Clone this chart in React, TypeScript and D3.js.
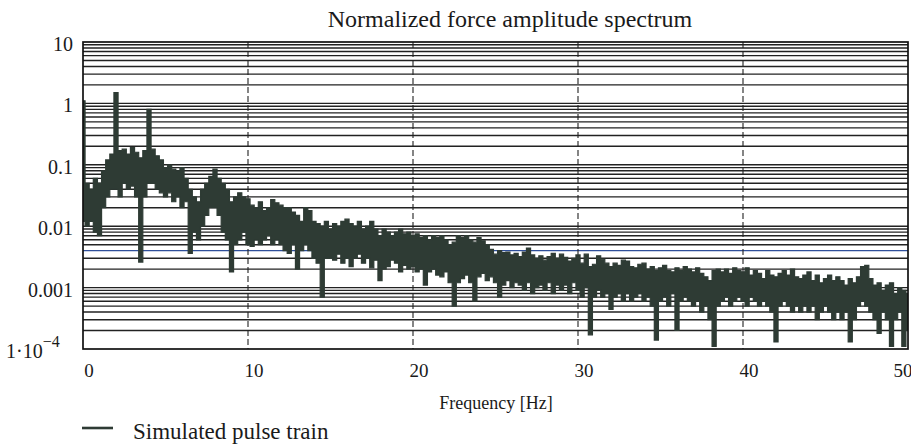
import React from "react";
import * as d3 from "d3";

const TITLE = "Normalized force amplitude spectrum";
const X_LABEL = "Frequency [Hz]";
const LEGEND_LABEL = "Simulated pulse train";
const X_TICKS = [0, 10, 20, 30, 40, 50];
const Y_TICK_VALUES = [10, 1, 0.1, 0.01, 0.001];
const Y_TICK_LABELS = ["10", "1", "0.1", "0.01", "0.001"];
const Y_MIN_LABEL_BASE = "1·10";
const Y_MIN_LABEL_EXP = "−4";
const X_DOMAIN = [0, 50];
const Y_DOMAIN = [1e-4, 10];
const FREQ_STEP = 0.25;

// upper envelope of the spectrum per 0.25 Hz bin (one row per Hz)
const AMP_HIGH = [
  1.1, 0.05, 0.04, 0.06,
  0.05, 0.08, 0.12, 0.15,
  1.5, 0.17, 0.18, 0.15,
  0.19, 0.16, 0.13, 0.17,
  0.8, 0.18, 0.14, 0.12,
  0.09, 0.1, 0.085, 0.08,
  0.09, 0.06, 0.04, 0.03,
  0.025, 0.04, 0.05, 0.065,
  0.085, 0.06, 0.05, 0.04,
  0.025, 0.03, 0.035, 0.03,
  0.028, 0.022, 0.02, 0.025,
  0.018, 0.02, 0.027, 0.024,
  0.022, 0.02, 0.02, 0.017,
  0.015, 0.012, 0.02, 0.018,
  0.012, 0.011, 0.01, 0.012,
  0.009, 0.011, 0.01, 0.012,
  0.013, 0.011, 0.01, 0.012,
  0.009, 0.01, 0.012, 0.009,
  0.007, 0.009, 0.008, 0.007,
  0.008, 0.009, 0.0075, 0.008,
  0.007, 0.0075, 0.0065, 0.007,
  0.006, 0.007, 0.0065, 0.007,
  0.006, 0.005, 0.0055, 0.007,
  0.0065, 0.007, 0.006, 0.0055,
  0.0065, 0.0058, 0.005, 0.0042,
  0.0035, 0.004, 0.0037, 0.0038,
  0.0034, 0.0036, 0.0032, 0.0038,
  0.0044, 0.0034, 0.003, 0.0033,
  0.0028, 0.0032, 0.0036, 0.003,
  0.0035, 0.0031, 0.0027, 0.003,
  0.0034, 0.0025, 0.0035, 0.0022,
  0.0024, 0.0033, 0.0029, 0.0025,
  0.0022, 0.0025, 0.0023, 0.0028,
  0.0027, 0.0022, 0.0021, 0.0024,
  0.0025, 0.002, 0.0022, 0.0019,
  0.0021, 0.0023, 0.0019, 0.0018,
  0.0021, 0.0019, 0.0022, 0.002,
  0.0018, 0.0021, 0.0017, 0.0015,
  0.0013, 0.0019, 0.002, 0.0018,
  0.002, 0.0017, 0.0021, 0.0019,
  0.0018, 0.0021, 0.0016, 0.0019,
  0.0017, 0.0014, 0.0019, 0.0016,
  0.0015, 0.0017, 0.0019, 0.0016,
  0.002, 0.0015, 0.0014, 0.0016,
  0.0018, 0.0013, 0.0016, 0.0012,
  0.0014, 0.0016, 0.0013, 0.0015,
  0.0013, 0.0011, 0.0014, 0.0012,
  0.0015, 0.0022, 0.0023, 0.0014,
  0.0011, 0.0012, 0.0009, 0.0011,
  0.0012, 0.0008, 0.001, 0.0009,
  0.0008,
];

// lower envelope of the spectrum per 0.25 Hz bin (one row per Hz)
const AMP_LOW = [
  0.012, 0.01, 0.012, 0.008,
  0.007, 0.02, 0.03, 0.04,
  0.04, 0.03, 0.05, 0.04,
  0.045, 0.03, 0.0026, 0.03,
  0.05, 0.05, 0.04, 0.035,
  0.03, 0.035, 0.025, 0.03,
  0.02, 0.025, 0.0036, 0.008,
  0.006, 0.01, 0.015, 0.02,
  0.02, 0.015, 0.008, 0.006,
  0.0018, 0.005, 0.006, 0.008,
  0.005, 0.0047, 0.006, 0.005,
  0.006, 0.007, 0.005, 0.006,
  0.005, 0.004, 0.0036, 0.005,
  0.002, 0.004, 0.005, 0.004,
  0.003, 0.0025, 0.0007, 0.003,
  0.003, 0.0028, 0.0035, 0.0025,
  0.003, 0.0022, 0.003, 0.0035,
  0.0025, 0.003, 0.0021, 0.0028,
  0.0013, 0.002, 0.0022, 0.0028,
  0.0025, 0.0018, 0.0023, 0.002,
  0.0022, 0.0018, 0.002, 0.0011,
  0.0018, 0.002, 0.0016, 0.0015,
  0.0018, 0.0012, 0.0005, 0.0012,
  0.0014, 0.0016, 0.0012, 0.0006,
  0.0015, 0.0017, 0.0013, 0.0015,
  0.0012, 0.0007, 0.0011, 0.0013,
  0.001, 0.0012, 0.0011, 0.0009,
  0.0012, 0.0008, 0.001, 0.0011,
  0.0009, 0.0012, 0.0008, 0.0011,
  0.0009, 0.0011, 0.0008, 0.0012,
  0.0009, 0.0007, 0.001, 0.00017,
  0.0007, 0.0009, 0.0007, 0.0008,
  0.00044, 0.0007, 0.0008, 0.0006,
  0.0008, 0.0006, 0.0007, 0.0008,
  0.0006, 0.0007, 0.0005, 0.00014,
  0.0006, 0.0007, 0.0005, 0.0008,
  0.0002, 0.0006, 0.0007, 0.0006,
  0.0005, 0.0006, 0.0004, 0.0005,
  0.0003, 0.00011, 0.0005, 0.0006,
  0.0007, 0.0005, 0.0006, 0.0007,
  0.0006, 0.0005, 0.0007, 0.0006,
  0.0005, 0.0006, 0.0005, 0.0004,
  0.00013, 0.0005, 0.0006, 0.0005,
  0.0004, 0.0005, 0.0004, 0.0005,
  0.0004, 0.0005, 0.0003, 0.0004,
  0.0005, 0.0004, 0.0003, 0.0004,
  0.0003, 0.0004, 0.00013, 0.0003,
  0.0005, 0.0006, 0.0005, 0.0004,
  0.0003, 0.00018, 0.0004, 0.0003,
  0.00011, 0.0003, 0.0004, 0.00011,
  0.0002,
];

const W = 911;
const H = 446;
const M = { left: 83, right: 3, top: 42, bottom: 97 };
const SERIF = "'Liberation Serif', 'DejaVu Serif', serif";
const TRACE = "#2e3b34";
const GRID = "#222";
const TEXT = "#1a1a1a";

type Bin = { f: number; hi: number; lo: number };

export default function App() {
  const x = d3.scaleLinear().domain(X_DOMAIN).range([M.left, W - M.right]);
  const y = d3.scaleLog().domain(Y_DOMAIN).range([H - M.bottom, M.top]);
  const data: Bin[] = AMP_HIGH.map((hi, i) => ({
    f: i * FREQ_STEP,
    hi,
    lo: AMP_LOW[i],
  }));
  const area = d3
    .area<Bin>()
    .x((d) => x(d.f))
    .y0((d) => y(d.lo))
    .y1((d) => y(d.hi))
    .curve(d3.curveStep);

  const gridVals: number[] = [];
  for (let e = -4; e <= 0; e++) {
    for (let k = 1; k <= 9; k++) {
      if (e === -4 && k === 1) continue;
      gridVals.push(k * Math.pow(10, e));
    }
  }

  const x0 = M.left;
  const x1 = W - M.right;
  const yTop = M.top;
  const yBot = H - M.bottom;

  return (
    <svg
      width={W}
      height={H}
      style={{ position: "absolute", left: 0, top: 0, background: "#fff" }}
    >
      <rect x={0} y={0} width={W} height={H} fill="#fff" />
      <defs>
        <clipPath id="plotclip">
          <rect x={x0} y={yTop} width={x1 - x0} height={yBot - yTop} />
        </clipPath>
      </defs>
      <text
        x={510}
        y={27}
        textAnchor="middle"
        fontFamily={SERIF}
        fontSize={24}
        fill={TEXT}
      >
        {TITLE}
      </text>

      {gridVals.map((v, i) => {
        const isBlue = Math.abs(v - 0.004) < 1e-9;
        return (
          <line
            key={"g" + i}
            x1={x0}
            x2={x1}
            y1={y(v)}
            y2={y(v)}
            stroke={isBlue ? "#2f4f9a" : GRID}
            strokeWidth={1.4}
          />
        );
      })}
      {X_TICKS.slice(1, -1).map((t) => (
        <line
          key={"v" + t}
          x1={x(t)}
          x2={x(t)}
          y1={yTop}
          y2={yBot}
          stroke={GRID}
          strokeWidth={1.1}
          strokeDasharray="6,3"
        />
      ))}

      <g clipPath="url(#plotclip)">
        <path
          d={area(data) || ""}
          fill={TRACE}
          stroke={TRACE}
          strokeWidth={1.2}
          strokeLinejoin="miter"
        />
      </g>

      <rect
        x={x0}
        y={yTop}
        width={x1 - x0}
        height={yBot - yTop}
        fill="none"
        stroke="#111"
        strokeWidth={1.7}
      />

      {Y_TICK_VALUES.map((v, i) => (
        <text
          key={"yl" + i}
          x={73}
          y={y(v) + 9}
          textAnchor="end"
          fontFamily={SERIF}
          fontSize={20}
          fill={TEXT}
        >
          {Y_TICK_LABELS[i]}
        </text>
      ))}
      <text
        x={6}
        y={y(Y_DOMAIN[0]) + 9}
        fontFamily={SERIF}
        fontSize={20}
        fill={TEXT}
      >
        {Y_MIN_LABEL_BASE}
        <tspan dy={-11} fontSize={16}>
          {Y_MIN_LABEL_EXP}
        </tspan>
      </text>

      {X_TICKS.map((t) => (
        <text
          key={"xl" + t}
          x={t === X_DOMAIN[1] ? x(t) - 5 : x(t) + 6}
          y={377}
          textAnchor="middle"
          fontFamily={SERIF}
          fontSize={19}
          fill={TEXT}
        >
          {t}
        </text>
      ))}
      <text
        x={496}
        y={409}
        textAnchor="middle"
        fontFamily={SERIF}
        fontSize={18}
        fill={TEXT}
      >
        {X_LABEL}
      </text>

      <line x1={82} x2={113} y1={428} y2={428} stroke={TRACE} strokeWidth={2.6} />
      <text x={133} y={439} fontFamily={SERIF} fontSize={23} fill={TEXT}>
        {LEGEND_LABEL}
      </text>
    </svg>
  );
}
